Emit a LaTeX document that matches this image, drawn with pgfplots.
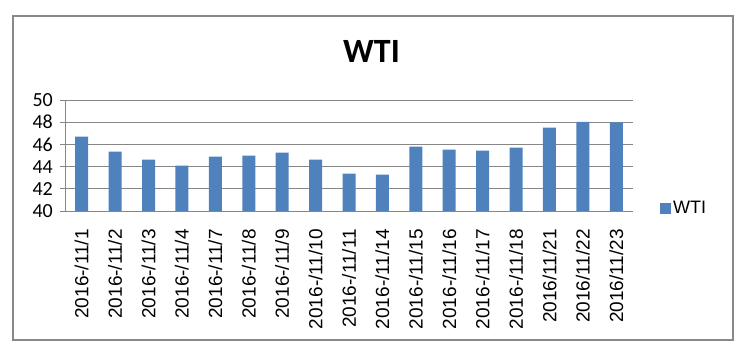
\documentclass[border=0pt]{standalone}
\usepackage{pgfplots}
\pgfplotsset{compat=1.18}
\usepackage{fontspec}
\setmainfont{Liberation Sans}
\newfontfamily\carlito{Carlito}
\definecolor{barblue}{RGB}{79,129,189}
\definecolor{gridgray}{RGB}{134,134,134}
\definecolor{framegray}{RGB}{136,136,136}
\begin{document}
\begin{tikzpicture}
\useasboundingbox (0,0) rectangle (751bp,350bp);
\draw[framegray, line width=1.3bp] (13bp,10bp) rectangle (733bp,334bp);
\node[font=\carlito\bfseries\fontsize{34bp}{40bp}\selectfont, anchor=base] at (371.5bp,287bp) {WTI};
\begin{axis}[
  at={(65bp,139bp)}, anchor=south west,
  scale only axis, width=568bp, height=111bp,
  ymin=40, ymax=50, ytick={40,42,...,50},
  xmin=-0.5, xmax=16.5,
  axis x line*=bottom, axis y line*=left,
  axis line style={gridgray, line width=0.9bp},
  every tick/.style={gridgray, line width=0.9bp},
  ymajorgrids, major grid style={gridgray, line width=0.9bp},
  tick align=outside,
  major tick length=5bp,
  xtick={0,...,16},
  xticklabels={2016-/11/1,2016-/11/2,2016-/11/3,2016-/11/4,2016-/11/7,2016-/11/8,2016-/11/9,2016-/11/10,2016-/11/11,2016-/11/14,2016-/11/15,2016-/11/16,2016-/11/17,2016-/11/18,2016/11/21,2016/11/22,2016/11/23},
  x tick style={draw=none},
  minor xtick={-0.5,0.5,...,16.5},
  minor x tick style={gridgray, line width=0.9bp},
  minor tick length=5bp,
  xticklabel style={yshift=-13bp, rotate=90, anchor=east, font=\fontsize{19bp}{21bp}\selectfont, inner sep=0pt},
  yticklabel style={font=\carlito\fontsize{20bp}{22bp}\selectfont, inner sep=0pt, xshift=-7bp},
  /pgf/number format/assume math mode=true,
  legend style={at={(1.0475,0.0225)}, anchor=west, draw=none, fill=none, inner sep=0pt,
    font=\fontsize{18bp}{20bp}\selectfont},
  legend image code/.code={\fill[barblue] (0bp,-5.5bp) rectangle (11bp,5.5bp);},
]
\addplot[ybar, bar width=13bp, fill=barblue, draw=none] coordinates {
(0,46.70) (1,45.35) (2,44.63) (3,44.08) (4,44.90) (5,44.98) (6,45.26) (7,44.63)
(8,43.36) (9,43.27) (10,45.80) (11,45.53) (12,45.44) (13,45.71) (14,47.51) (15,48.02) (16,47.99)
};
\addlegendentry{WTI}
\end{axis}
\end{tikzpicture}
\end{document}
